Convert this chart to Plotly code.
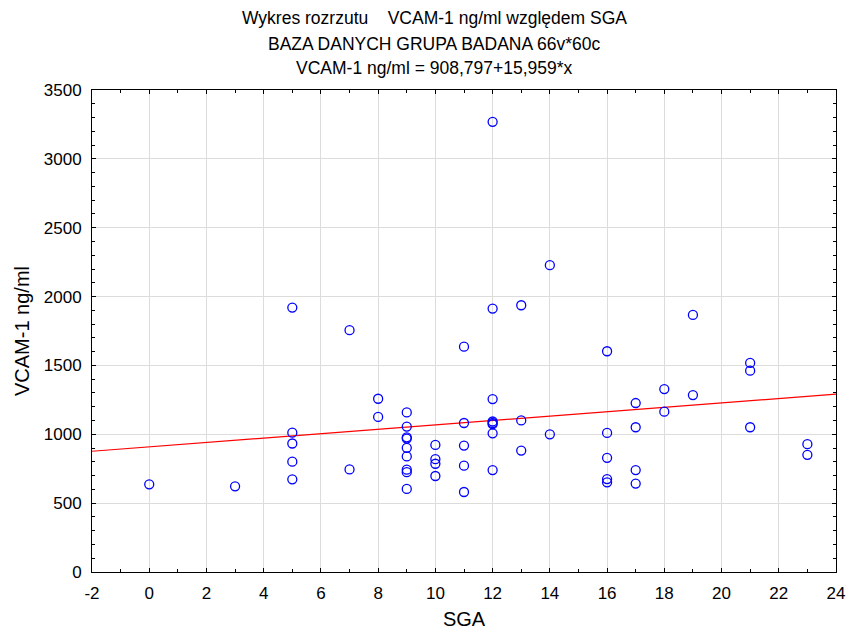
import plotly.graph_objects as go

# Data (SGA, VCAM-1 ng/ml)
sga = [0, 3,
       5, 5, 5, 5, 5,
       7, 7,
       8, 8,
       9, 9, 9, 9, 9, 9, 9, 9, 9,
       10, 10, 10, 10,
       11, 11, 11, 11, 11,
       12, 12, 12, 12, 12, 12, 12, 12,
       13, 13, 13,
       14, 14,
       16, 16, 16, 16, 16,
       17, 17, 17, 17,
       18, 18,
       19, 19,
       21, 21, 21,
       23, 23]
vcam = [637, 622,
        1920, 1012, 933, 801, 673,
        1756, 745,
        1258, 1126,
        1159, 1056, 978, 969, 902, 839, 743, 725, 603,
        923, 819, 786, 697,
        1636, 1082, 918, 772, 581,
        3269, 1913, 1256, 1093, 1082, 1073, 1007, 740,
        1937, 1101, 882,
        2228, 1000,
        1603, 1010, 829, 675, 651,
        1227, 1051, 740, 642,
        1328, 1164,
        1867, 1285,
        1518, 1462, 1051,
        928, 851]

intercept = 908.797
slope = 15.959
line_x = [-2, 24]
line_y = [intercept + slope * v for v in line_x]

x_tickvals = [-2, 0, 2, 4, 6, 8, 10, 12, 14, 16, 18, 20, 22, 24]
x_ticktext = ["-2", "0", "2", "4", "6", "8", "10", "12", "14", "16", "18", "20", "22", "24"]
y_tickvals = [0, 500, 1000, 1500, 2000, 2500, 3000, 3500]

title_lines = ["Wykres rozrzutu    VCAM-1 ng/ml względem SGA",
               "BAZA DANYCH GRUPA BADANA 66v*60c",
               "VCAM-1 ng/ml = 908,797+15,959*x"]

fig = go.Figure()
fig.add_trace(go.Scatter(
    x=line_x, y=line_y, mode="lines",
    line=dict(color="#ff0000", width=1.2), hoverinfo="skip", showlegend=False))
fig.add_trace(go.Scatter(
    x=sga, y=vcam, mode="markers",
    marker=dict(symbol="circle-open", size=9, color="#0000ff",
                line=dict(width=1.3, color="#0000ff")),
    showlegend=False))

font = "Liberation Sans, Arial, sans-serif"
fig.update_layout(
    width=848, height=630,
    margin=dict(l=92, r=12, t=90, b=58),
    paper_bgcolor="white", plot_bgcolor="white",
    font=dict(family=font, size=17, color="black"),
)
for txt, yp in zip(title_lines, [1.1494, 1.0954, 1.0456]):
    fig.add_annotation(text=txt, xref="paper", yref="paper", x=0.46, y=yp,
                       xanchor="center", yanchor="middle", showarrow=False,
                       font=dict(family=font, size=17.5, color="black"))

fig.update_xaxes(
    range=[-2, 24], tickmode="array", tickvals=x_tickvals, ticktext=x_ticktext,
    showgrid=True, gridcolor="#dcdcdc", gridwidth=1,
    zeroline=False, showline=True, linecolor="black", linewidth=1,
    mirror="ticks", ticks="inside", ticklen=4, tickcolor="black",
    minor=dict(dtick=1, tick0=-2, ticks="inside", ticklen=3, tickcolor="black", showgrid=False),
    ticklabelstandoff=6, automargin=False,
    title=dict(text="SGA", standoff=12))
fig.update_yaxes(
    range=[0, 3500], tickmode="array", tickvals=y_tickvals,
    showgrid=True, gridcolor="#dcdcdc", gridwidth=1,
    zeroline=False, showline=True, linecolor="black", linewidth=1,
    mirror="ticks", ticks="inside", ticklen=4, tickcolor="black",
    minor=dict(dtick=100, tick0=0, ticks="inside", ticklen=3, tickcolor="black", showgrid=False),
    ticklabelstandoff=6, automargin=False,
    title=dict(text="VCAM-1 ng/ml", standoff=8))

fig.write_html("out.html")
